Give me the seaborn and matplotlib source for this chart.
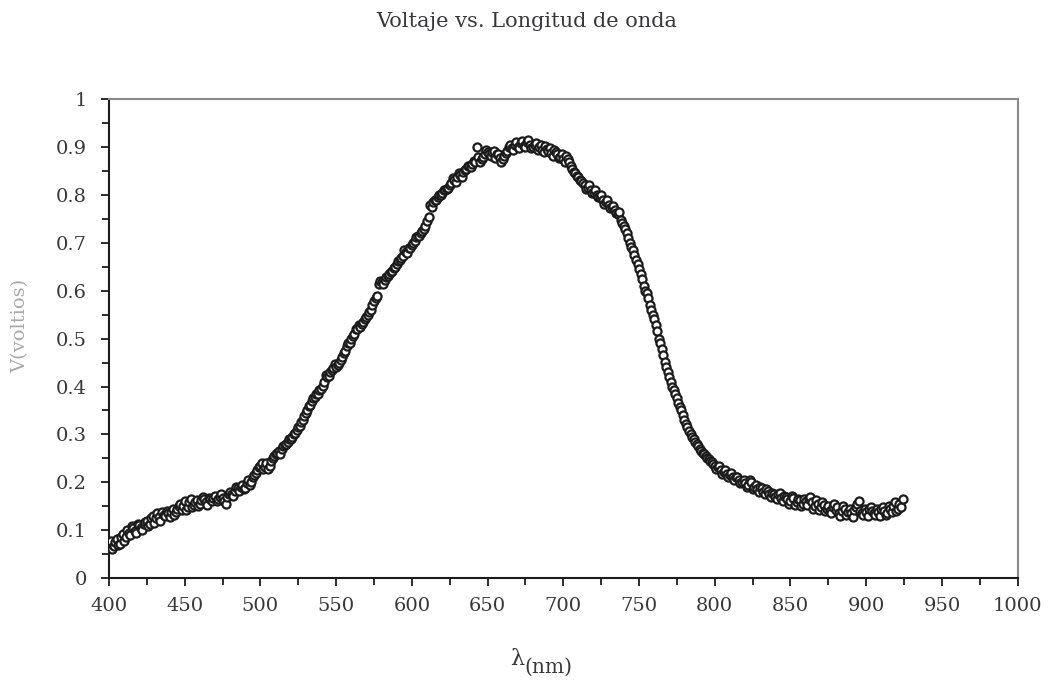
import numpy as np
import pandas as pd
import matplotlib
matplotlib.use("Agg")
import matplotlib.pyplot as plt
from matplotlib.ticker import MultipleLocator
import seaborn as sns

# Wavelength sweep (nm): readings taken at even and at odd nanometres
wavelength_a = list(range(400, 925, 2))
wavelength_b = list(range(401, 924, 2))

# Detector voltage (V) at even wavelengths
voltage_a = [
    0.070, 0.060, 0.075, 0.068, 0.085, 0.078, 0.100, 0.090, 0.105, 0.095,  # 400
    0.110, 0.100, 0.118, 0.108, 0.125, 0.115, 0.135, 0.120, 0.132, 0.140,  # 420
    0.128, 0.145, 0.138, 0.150, 0.142, 0.160, 0.148, 0.165, 0.152, 0.162,  # 440
    0.155, 0.170, 0.158, 0.168, 0.160, 0.172, 0.165, 0.175, 0.160, 0.170,  # 460
    0.180, 0.172, 0.190, 0.182, 0.195, 0.188, 0.205, 0.200, 0.215, 0.225,  # 480
    0.235, 0.228, 0.240, 0.235, 0.250, 0.258, 0.265, 0.270, 0.278, 0.285,  # 500
    0.290, 0.300, 0.310, 0.318, 0.330, 0.345, 0.360, 0.370, 0.378, 0.385,  # 520
    0.395, 0.410, 0.420, 0.430, 0.438, 0.440, 0.450, 0.462, 0.475, 0.490,  # 540
    0.500, 0.510, 0.520, 0.525, 0.535, 0.545, 0.555, 0.570, 0.585, 0.615,  # 560
    0.618, 0.622, 0.630, 0.640, 0.648, 0.655, 0.665, 0.672, 0.680, 0.690,  # 580
    0.695, 0.705, 0.715, 0.720, 0.730, 0.745, 0.780, 0.785, 0.790, 0.800,  # 600
    0.805, 0.810, 0.815, 0.825, 0.832, 0.838, 0.842, 0.848, 0.855, 0.860,  # 620
    0.865, 0.870, 0.880, 0.875, 0.885, 0.890, 0.882, 0.893, 0.885, 0.878,  # 640
    0.875, 0.888, 0.900, 0.898, 0.905, 0.900, 0.908, 0.902, 0.910, 0.905,  # 660
    0.900, 0.908, 0.900, 0.895, 0.902, 0.892, 0.888, 0.895, 0.885, 0.880,  # 680
    0.875, 0.882, 0.868, 0.855, 0.845, 0.838, 0.830, 0.820, 0.815, 0.810,  # 700
    0.805, 0.800, 0.795, 0.790, 0.785, 0.780, 0.775, 0.768, 0.760, 0.748,  # 720
    0.735, 0.720, 0.700, 0.685, 0.665, 0.645, 0.625, 0.600, 0.585, 0.560,  # 740
    0.540, 0.515, 0.490, 0.465, 0.440, 0.420, 0.400, 0.385, 0.365, 0.350,  # 760
    0.330, 0.315, 0.300, 0.290, 0.280, 0.270, 0.262, 0.255, 0.248, 0.242,  # 780
    0.235, 0.232, 0.225, 0.222, 0.218, 0.215, 0.210, 0.212, 0.205, 0.200,  # 800
    0.198, 0.195, 0.200, 0.190, 0.185, 0.190, 0.180, 0.185, 0.175, 0.178,  # 820
    0.170, 0.175, 0.168, 0.172, 0.165, 0.160, 0.168, 0.158, 0.162, 0.155,  # 840
    0.160, 0.165, 0.158, 0.150, 0.155, 0.148, 0.152, 0.145, 0.140, 0.148,  # 860
    0.142, 0.135, 0.140, 0.145, 0.138, 0.135, 0.142, 0.155, 0.140, 0.132,  # 880
    0.138, 0.145, 0.140, 0.132, 0.138, 0.145, 0.140, 0.135, 0.145, 0.150,  # 900
    0.140, 0.155, 0.165,                                                   # 920
]

# Detector voltage (V) at odd wavelengths
voltage_b = [
    0.078, 0.066, 0.082, 0.072, 0.092, 0.085, 0.093, 0.108, 0.098, 0.112,  # 401
    0.104, 0.112, 0.120, 0.112, 0.130, 0.125, 0.128, 0.138, 0.130, 0.135,  # 421
    0.138, 0.132, 0.145, 0.155, 0.150, 0.143, 0.158, 0.148, 0.158, 0.150,  # 441
    0.162, 0.165, 0.152, 0.165, 0.168, 0.160, 0.170, 0.168, 0.155, 0.175,  # 461
    0.175, 0.182, 0.188, 0.190, 0.185, 0.198, 0.195, 0.210, 0.220, 0.232,  # 481
    0.240, 0.232, 0.228, 0.245, 0.255, 0.262, 0.260, 0.275, 0.280, 0.290,  # 501
    0.295, 0.302, 0.315, 0.325, 0.338, 0.350, 0.362, 0.375, 0.385, 0.392,  # 521
    0.402, 0.425, 0.422, 0.435, 0.448, 0.445, 0.455, 0.470, 0.485, 0.490,  # 541
    0.505, 0.520, 0.528, 0.530, 0.540, 0.550, 0.560, 0.578, 0.590, 0.620,  # 561
    0.615, 0.628, 0.635, 0.642, 0.650, 0.662, 0.668, 0.685, 0.678, 0.690,  # 581
    0.700, 0.712, 0.715, 0.725, 0.735, 0.755, 0.775, 0.790, 0.795, 0.800,  # 601
    0.810, 0.812, 0.820, 0.835, 0.828, 0.845, 0.838, 0.852, 0.860, 0.858,  # 621
    0.872, 0.900, 0.870, 0.880, 0.895, 0.885, 0.890, 0.878, 0.885, 0.870,  # 641
    0.882, 0.893, 0.905, 0.895, 0.910, 0.898, 0.912, 0.900, 0.915, 0.898,  # 661
    0.905, 0.895, 0.905, 0.890, 0.897, 0.898, 0.882, 0.890, 0.878, 0.885,  # 681
    0.870, 0.876, 0.860, 0.848, 0.840, 0.832, 0.825, 0.812, 0.820, 0.805,  # 701
    0.810, 0.795, 0.800, 0.782, 0.790, 0.772, 0.778, 0.762, 0.765, 0.742,  # 721
    0.728, 0.710, 0.692, 0.675, 0.655, 0.635, 0.610, 0.595, 0.570, 0.550,  # 741
    0.528, 0.500, 0.478, 0.452, 0.430, 0.410, 0.392, 0.375, 0.358, 0.340,  # 761
    0.322, 0.308, 0.295, 0.285, 0.275, 0.266, 0.258, 0.250, 0.245, 0.238,  # 781
    0.228, 0.235, 0.218, 0.225, 0.212, 0.220, 0.205, 0.210, 0.198, 0.205,  # 801
    0.190, 0.205, 0.185, 0.195, 0.180, 0.188, 0.175, 0.182, 0.170, 0.175,  # 821
    0.165, 0.178, 0.160, 0.170, 0.155, 0.172, 0.152, 0.165, 0.150, 0.165,  # 841
    0.152, 0.170, 0.145, 0.162, 0.142, 0.158, 0.140, 0.150, 0.135, 0.155,  # 861
    0.148, 0.130, 0.150, 0.132, 0.145, 0.128, 0.148, 0.160, 0.135, 0.145,  # 881
    0.130, 0.148, 0.135, 0.145, 0.130, 0.148, 0.132, 0.150, 0.138, 0.158,  # 901
    0.145, 0.148,                                                          # 921
]

x_ticks = [400, 450, 500, 550, 600, 650, 700, 750, 800, 850, 900, 950, 1000]
y_ticks = [0, 0.1, 0.2, 0.3, 0.4, 0.5, 0.6, 0.7, 0.8, 0.9, 1]
y_tick_labels = ["0", "0.1", "0.2", "0.3", "0.4", "0.5", "0.6", "0.7", "0.8", "0.9", "1"]

df = pd.DataFrame({
    "wavelength": wavelength_a + wavelength_b,
    "voltage": voltage_a + voltage_b,
}).sort_values("wavelength")

sns.set_style("white")
plt.rcParams["font.family"] = ["DejaVu Serif", "Liberation Serif"]

text_color = "#3a373c"

fig = plt.figure(figsize=(10.48, 6.8), dpi=100)
ax = fig.add_axes([0.104, 0.150, 0.867, 0.704])

sns.scatterplot(
    data=df, x="wavelength", y="voltage", ax=ax,
    marker="o", s=34, facecolor="white", edgecolor="#1b1b1b",
    linewidth=1.6, legend=False, zorder=3,
)

ax.set_xlim(400, 1000)
ax.set_ylim(0, 1)
ax.set_xticks(x_ticks)
ax.set_xticklabels([str(t) for t in x_ticks])
ax.set_yticks(y_ticks)
ax.set_yticklabels(y_tick_labels)
ax.xaxis.set_minor_locator(MultipleLocator(25))
ax.yaxis.set_minor_locator(MultipleLocator(0.05))

ax.tick_params(axis="both", which="both", direction="out", color="#1b1b1b",
               width=1.3, bottom=True, left=True, top=False, right=False)
ax.tick_params(axis="both", which="major", length=6, labelsize=14,
               labelcolor=text_color)
ax.tick_params(axis="x", which="major", pad=8)
ax.tick_params(axis="y", which="major", pad=10)
ax.tick_params(axis="both", which="minor", length=5)

for side in ("left", "bottom"):
    ax.spines[side].set_color("#1b1b1b")
    ax.spines[side].set_linewidth(1.5)
for side in ("top", "right"):
    ax.spines[side].set_visible(True)
    ax.spines[side].set_color("#8a8a8a")
    ax.spines[side].set_linewidth(1.5)

ax.set_xlabel("")
ax.set_ylabel("")

fig.text(0.503, 0.968, "Voltaje vs. Longitud de onda", ha="center", va="center",
         fontsize=15, color=text_color)

fig.text(0.019, 0.52, "V(voltios)", rotation=90, ha="center", va="center",
         fontsize=14, color="#a9a9a9")

fig.text(0.500, 0.022, "\u03bb", ha="right", va="baseline",
         fontsize=16, color=text_color)
fig.text(0.500, 0.010, "(nm)", ha="left", va="baseline",
         fontsize=14.5, color=text_color)

fig.savefig("out.png", dpi=100, facecolor="white")
